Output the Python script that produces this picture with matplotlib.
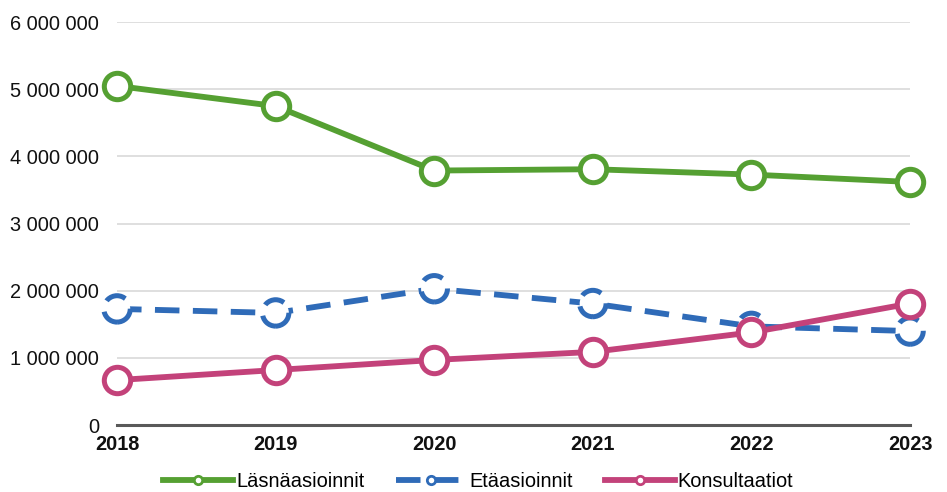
import numpy as np
import matplotlib.pyplot as plt
from matplotlib.ticker import FuncFormatter

years = [2018, 2019, 2020, 2021, 2022, 2023]
lasna = [5050000, 4750000, 3790000, 3810000, 3730000, 3620000]
etaa = [1730000, 1670000, 2030000, 1810000, 1470000, 1400000]
konsultaatiot = [670000, 820000, 970000, 1090000, 1380000, 1810000]

GREEN = '#55A032'
BLUE = '#2F6BB8'
PINK = '#C3427A'
DASH = (0, (4.2, 2.3))

plt.rcParams['font.family'] = ['Liberation Sans', 'DejaVu Sans']

fig = plt.figure(figsize=(9.47, 4.92), dpi=100)
ax = fig.add_axes([0.1236, 0.136, 0.961 - 0.1236, 0.955 - 0.136])

x = np.arange(len(years))

# green and pink: solid lines with hollow markers
ax.plot(x, lasna, color=GREEN, lw=4.2, marker='o', ms=19, mfc='white',
        mec=GREEN, mew=3.6, clip_on=False, zorder=3, label='Läsnäasioinnit')

# blue: dashed line, markers with dashed edges drawn as a scatter
ax.plot(x, etaa, color=BLUE, lw=4.2, ls=DASH, clip_on=False, zorder=3)
ax.scatter(x, etaa, s=19 ** 2, facecolors='white', edgecolors=BLUE, linewidths=3.6,
           linestyles=DASH, clip_on=False, zorder=4)
ax.plot([], [], color=BLUE, lw=4.2, ls=DASH, marker='o', ms=6, mfc='white',
        mec=BLUE, mew=2, label='Etäasioinnit')

ax.plot(x, konsultaatiot, color=PINK, lw=4.2, marker='o', ms=19, mfc='white',
        mec=PINK, mew=3.6, clip_on=False, zorder=5, label='Konsultaatiot')

ax.set_xlim(0, len(years) - 1)
ax.set_ylim(0, 6000000)
ax.set_yticks(np.arange(0, 6000001, 1000000))
ax.yaxis.set_major_formatter(FuncFormatter(lambda v, p: f'{int(v):,}'.replace(',', ' ')))
ax.set_xticks(x)
ax.set_xticklabels([str(y) for y in years], fontweight='bold')

ax.grid(axis='y', color='#D9D9D9', lw=1.2)
ax.set_axisbelow(True)
for s in ['top', 'right', 'left']:
    ax.spines[s].set_visible(False)
ax.spines['bottom'].set_color('#595959')
ax.spines['bottom'].set_linewidth(2.2)
ax.tick_params(axis='both', length=0, labelsize=14.4, colors='#111111')
ax.tick_params(axis='y', pad=13)
ax.tick_params(axis='x', pad=7)

h, l = ax.get_legend_handles_labels()
leg = fig.legend(h, l, loc='center', bbox_to_anchor=(0.505, 0.022), ncol=3, frameon=False,
                 fontsize=14.4, handlelength=3.5, handletextpad=0.15, columnspacing=1.6,
                 borderpad=0)
# legend markers are smaller than in the plot
for hd in leg.legend_handles:
    hd.set_markersize(6)
    hd.set_markeredgewidth(2)

fig.savefig('out.png', dpi=100)
